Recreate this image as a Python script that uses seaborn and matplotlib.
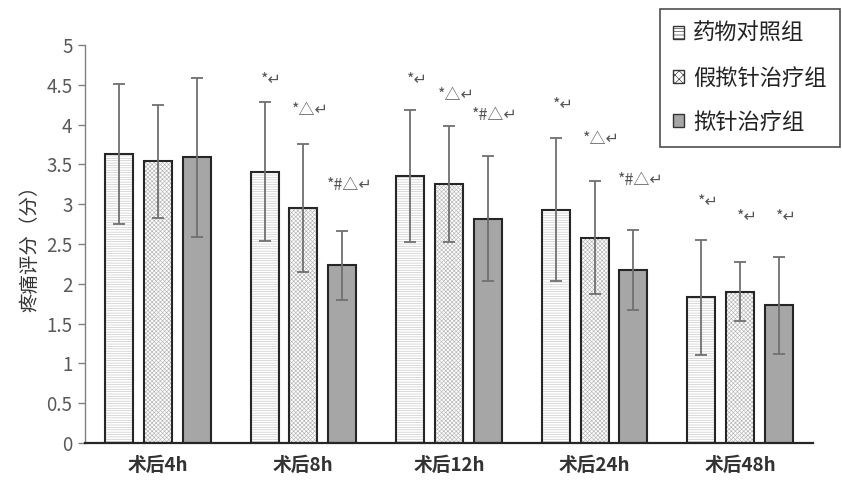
import numpy as np
import pandas as pd
import matplotlib
matplotlib.use("Agg")
import matplotlib.pyplot as plt
from matplotlib.patches import Patch, Rectangle
import seaborn as sns

# DATA
times = ["术后4h", "术后8h", "术后12h", "术后24h", "术后48h"]
groups = ["药物对照组", "假揿针治疗组", "揿针治疗组"]

mean_ctrl = [3.63, 3.41, 3.35, 2.93, 1.83]
mean_sham = [3.54, 2.95, 3.25, 2.58, 1.90]
mean_needle = [3.59, 2.23, 2.82, 2.17, 1.73]

sd_ctrl = [0.88, 0.87, 0.83, 0.90, 0.72]
sd_sham = [0.71, 0.80, 0.73, 0.71, 0.37]
sd_needle = [1.00, 0.43, 0.79, 0.50, 0.61]

marks_ctrl = ["", "*↵", "*↵", "*↵", "*↵"]
marks_sham = ["", "*△↵", "*△↵", "*△↵", "*↵"]
marks_needle = ["", "*#△↵", "*#△↵", "*#△↵", "*↵"]

# layout: gap above the error bar top for each mark
mark_gap = [
    [0, 0.28, 0.38, 0.42, 0.48],
    [0, 0.43, 0.39, 0.52, 0.57],
    [0, 0.58, 0.50, 0.63, 0.50],
]

df = pd.DataFrame({
    "time": np.repeat(times, 3),
    "group": groups * len(times),
    "score": np.column_stack([mean_ctrl, mean_sham, mean_needle]).ravel(),
})
sds = [sd_ctrl, sd_sham, sd_needle]
marks = [marks_ctrl, marks_sham, marks_needle]

sns.set_style("white")
plt.rcParams["font.family"] = ["Noto Sans CJK SC", "DejaVu Sans"]
plt.rcParams["hatch.linewidth"] = 0.45

fig = plt.figure(figsize=(8.42, 4.82), dpi=100)
ax = fig.add_axes([85 / 842, 39 / 482, 728 / 842, 398 / 482])

palette = {"药物对照组": "#ffffff", "假揿针治疗组": "#ffffff", "揿针治疗组": "#a6a6a6"}
sns.barplot(data=df, x="time", y="score", hue="group", order=times,
            hue_order=groups, palette=palette, width=0.8, gap=0.28,
            errorbar=None, legend=False, ax=ax)

hatches = ["-------", "xxxxxxxx", ""]
hatch_colors = ["#c4c4c4", "#b4b4b4", "#a6a6a6"]

bar_sets = list(ax.containers)
for k, cont in enumerate(bar_sets):
    xs, hs = [], []
    for bar in cont.patches:
        bar.set_hatch(hatches[k])
        bar.set_edgecolor(hatch_colors[k])
        bar.set_linewidth(0)
        ax.add_patch(Rectangle((bar.get_x(), 0), bar.get_width(), bar.get_height(),
                               fill=False, edgecolor="#262626", lw=1.5, zorder=2.5))
        xs.append(bar.get_x() + bar.get_width() / 2)
        hs.append(bar.get_height())
    ax.errorbar(xs, hs, yerr=sds[k], fmt="none", ecolor="#707070",
                elinewidth=1.3, capsize=4, capthick=1.3, zorder=3)
    for i, txt in enumerate(marks[k]):
        if txt:
            ax.text(xs[i] + 0.05, hs[i] + sds[k][i] + mark_gap[k][i], txt,
                    ha="center", va="center", fontsize=11.5, color="#555555")

ax.set_xlim(-0.5, 4.5)
ax.set_ylim(0, 5)
ax.set_yticks(np.arange(0, 5.01, 0.5))
ax.set_yticklabels([f"{v:g}" for v in np.arange(0, 5.01, 0.5)])
ax.set_xticks(range(len(times)))
ax.set_xticklabels(times, fontweight="bold", fontsize=13.5, color="#333333")
ax.set_xticks(np.arange(-0.5, 4.6, 1), minor=True)
ax.tick_params(axis="x", which="major", length=0, pad=9)
ax.tick_params(axis="x", which="minor", length=6, width=1.2, color="#333333")
ax.tick_params(axis="y", length=5, width=1, color="#808080", pad=4,
               labelsize=13.5, labelcolor="#595959", left=True)

ax.set_xlabel("")
ax.set_ylabel("疼痛评分（分）", fontsize=14, color="#333333", labelpad=4)

for s in ["top", "right"]:
    ax.spines[s].set_visible(False)
ax.spines["left"].set_color("#808080")
ax.spines["left"].set_linewidth(1)
ax.spines["bottom"].set_color("#262626")
ax.spines["bottom"].set_linewidth(1.6)

handles = [Patch(facecolor=palette[g], edgecolor="#333333", hatch=h, lw=1)
           for g, h in zip(groups, ["-----", "xxxx", ""])]
leg = fig.legend(handles, groups, loc="upper right",
                 bbox_to_anchor=(840 / 842, 1 - 9 / 482), fontsize=16,
                 frameon=True, fancybox=False, edgecolor="#222222",
                 handlelength=0.5, handleheight=0.5, handletextpad=0.4,
                 labelspacing=0.95, borderpad=0.6, borderaxespad=0)
leg.get_frame().set_linewidth(1.2)
for t in leg.get_texts():
    t.set_color("#222222")

fig.savefig("out.png", dpi=100)
